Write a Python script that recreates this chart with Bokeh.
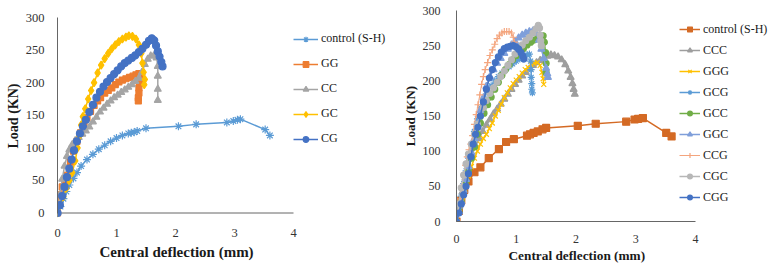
from bokeh.plotting import figure
from bokeh.layouts import row
from bokeh.models import Range1d, FixedTicker, Legend, LegendItem, Title
from bokeh.embed import file_html
from bokeh.resources import INLINE

# ---------------- data: two-layer specimens (left panel) ----------------
ctrl_l_x = [0, 0.05, 0.1, 0.15, 0.2, 0.27, 0.33, 0.4, 0.5, 0.6, 0.7, 0.8, 0.9, 1.0, 1.1, 1.2,
            1.25, 1.3, 1.35, 1.5, 2.05, 2.35, 2.87, 2.98, 3.05, 3.1, 3.52, 3.6]
ctrl_l_y = [0, 10, 22, 33, 43, 53, 62, 72, 82, 90, 98, 104, 110, 115, 119, 122,
            123, 124, 126, 130, 133, 136, 139, 141, 143, 144, 128, 119]

gg_x = [0, 0.03, 0.08, 0.13, 0.17, 0.22, 0.27, 0.33, 0.39, 0.45, 0.5, 0.56, 0.62, 0.68, 0.73,
        0.8, 0.86, 0.92, 0.98, 1.04, 1.1, 1.16, 1.22, 1.28, 1.33, 1.38, 1.4, 1.39, 1.38, 1.38,
        1.37, 1.37]
gg_y = [0, 28, 40, 50, 58, 78, 95, 110, 123, 135, 146, 156, 165, 172, 177,
        184, 188, 192, 197, 201, 204, 206, 208, 210, 212, 214, 207, 199, 192, 184,
        177, 172]

cc_x = [0, 0.04, 0.08, 0.12, 0.16, 0.2, 0.25, 0.3, 0.36, 0.42, 0.48, 0.54, 0.6, 0.66, 0.72,
        0.78, 0.84, 0.9, 0.96, 1.02, 1.08, 1.14, 1.2, 1.26, 1.32, 1.38, 1.43, 1.48, 1.53,
        1.58, 1.63, 1.68, 1.7, 1.7, 1.7, 1.7]
cc_y = [0, 28, 52, 72, 87, 97, 105, 111, 116, 121, 126, 132, 140, 147, 155,
        161, 167, 172, 177, 181, 185, 189, 193, 197, 202, 207, 216, 228, 236,
        241, 241, 238, 225, 210, 190, 173]

gc_x = [0, 0.05, 0.1, 0.15, 0.2, 0.25, 0.3, 0.34, 0.37, 0.4, 0.43, 0.47, 0.52, 0.57, 0.62,
        0.68, 0.74, 0.8, 0.86, 0.92, 0.98, 1.04, 1.1, 1.16, 1.21, 1.27, 1.33, 1.38, 1.42,
        1.44, 1.46, 1.48, 1.47]
gc_y = [0, 12, 25, 38, 50, 62, 80, 100, 118, 135, 148, 160, 175, 188, 200,
        215, 227, 237, 245, 252, 258, 263, 267, 270, 272, 271, 267, 258, 245,
        230, 216, 205, 197]

cg_x = [0, 0.04, 0.08, 0.12, 0.16, 0.2, 0.24, 0.28, 0.33, 0.38, 0.43, 0.48, 0.54, 0.6, 0.66,
        0.72, 0.78, 0.84, 0.9, 0.96, 1.02, 1.08, 1.14, 1.2, 1.26, 1.32, 1.38, 1.44, 1.5,
        1.55, 1.6, 1.64, 1.67, 1.7, 1.73, 1.76, 1.78]
cg_y = [0, 12, 26, 40, 55, 68, 82, 96, 110, 122, 133, 143, 155, 166, 177,
        186, 194, 201, 207, 213, 219, 225, 230, 234, 238, 242, 247, 252, 258,
        264, 268, 265, 257, 248, 240, 232, 225]

# ---------------- data: three-layer specimens (right panel) ----------------
ctrl_r_x = [0, 0.04, 0.08, 0.13, 0.2, 0.3, 0.4, 0.54, 0.71, 0.83, 0.96, 1.18, 1.23, 1.29,
            1.36, 1.44, 1.5, 2.03, 2.33, 2.84, 2.98, 3.04, 3.12, 3.51, 3.6]
ctrl_r_y = [0, 15, 30, 45, 57, 70, 77, 90, 103, 113, 117, 122, 124, 126,
            128, 131, 133, 136, 139, 142, 145, 146, 147, 126, 121]

ccc_x = [0, 0.05, 0.1, 0.15, 0.2, 0.26, 0.32, 0.38, 0.44, 0.5, 0.56, 0.62, 0.68, 0.74, 0.8,
         0.86, 0.92, 0.98, 1.04, 1.1, 1.16, 1.22, 1.28, 1.34, 1.4, 1.46, 1.52, 1.58, 1.64,
         1.7, 1.76, 1.82, 1.87, 1.91, 1.94, 1.96, 1.98]
ccc_y = [0, 22, 42, 62, 80, 95, 107, 118, 128, 137, 145, 153, 160, 167, 174,
         181, 188, 195, 201, 207, 212, 217, 222, 226, 229, 232, 235, 237, 236,
         234, 230, 223, 214, 205, 196, 188, 181]

ggg_x = [0, 0.05, 0.1, 0.15, 0.2, 0.25, 0.3, 0.35, 0.4, 0.45, 0.5, 0.55, 0.6, 0.65, 0.7,
         0.75, 0.8, 0.85, 0.9, 0.95, 1.0, 1.05, 1.1, 1.15, 1.2, 1.25, 1.3, 1.35, 1.4, 1.43,
         1.45, 1.46]
ggg_y = [0, 18, 35, 50, 65, 78, 90, 100, 110, 118, 124, 132, 140, 150, 158,
         167, 176, 183, 190, 196, 201, 206, 211, 216, 219, 223, 225, 226, 222, 212,
         203, 195]

gcg_x = [0, 0.04, 0.08, 0.12, 0.16, 0.2, 0.25, 0.3, 0.35, 0.4, 0.46, 0.52, 0.58, 0.64, 0.7,
         0.76, 0.82, 0.88, 0.94, 1.0, 1.06, 1.12, 1.18, 1.22, 1.24, 1.25, 1.25, 1.26, 1.26,
         1.27]
gcg_y = [0, 18, 36, 54, 72, 90, 110, 128, 146, 162, 175, 185, 193, 200, 206,
         211, 216, 220, 224, 228, 231, 234, 237, 238, 228, 216, 205, 196, 188,
         183]

gcc_x = [0, 0.04, 0.08, 0.12, 0.16, 0.2, 0.25, 0.3, 0.35, 0.4, 0.46, 0.52, 0.58, 0.64, 0.7,
         0.76, 0.82, 0.88, 0.94, 1.0, 1.06, 1.12, 1.18, 1.24, 1.3, 1.36, 1.41, 1.45, 1.47,
         1.49, 1.5, 1.5]
gcc_y = [0, 14, 28, 43, 58, 73, 90, 106, 124, 140, 154, 166, 177, 188, 198,
         208, 216, 223, 230, 236, 241, 246, 251, 255, 258, 261, 263, 264, 255,
         240, 225, 212]

ggc_x = [0, 0.04, 0.08, 0.12, 0.16, 0.2, 0.25, 0.3, 0.35, 0.4, 0.45, 0.5, 0.56, 0.62, 0.68,
         0.74, 0.8, 0.86, 0.92, 0.98, 1.04, 1.1, 1.16, 1.22, 1.28, 1.33, 1.38, 1.42, 1.46,
         1.5, 1.52, 1.53]
ggc_y = [0, 14, 28, 44, 60, 78, 98, 118, 138, 158, 176, 192, 206, 216, 225,
         232, 239, 245, 251, 256, 261, 265, 268, 270, 271, 268, 258, 245, 232,
         218, 210, 205]

ccg_x = [0, 0.03, 0.06, 0.09, 0.12, 0.15, 0.18, 0.21, 0.24, 0.27, 0.3, 0.33, 0.36, 0.39,
         0.42, 0.45, 0.48, 0.52, 0.56, 0.6, 0.64, 0.68, 0.72, 0.76, 0.8, 0.84, 0.88, 0.92,
         0.95, 0.97]
ccg_y = [0, 15, 32, 50, 66, 80, 92, 102, 110, 122, 138, 152, 166, 180,
         195, 206, 216, 226, 236, 244, 252, 260, 265, 268, 270, 270, 270, 268,
         262, 255]

cgc_x = [0, 0.04, 0.08, 0.12, 0.16, 0.2, 0.25, 0.3, 0.35, 0.4, 0.45, 0.5, 0.56, 0.62, 0.68,
         0.74, 0.8, 0.86, 0.92, 0.98, 1.04, 1.1, 1.16, 1.22, 1.28, 1.33, 1.37, 1.39, 1.4,
         1.41, 1.42]
cgc_y = [0, 25, 48, 66, 82, 96, 110, 124, 138, 150, 162, 172, 182, 190, 198,
         206, 214, 222, 230, 238, 245, 251, 257, 262, 268, 274, 279, 275, 265,
         257, 250]

cgg_x = [0, 0.04, 0.08, 0.12, 0.16, 0.2, 0.24, 0.28, 0.32, 0.36, 0.4, 0.45, 0.5, 0.55, 0.6,
         0.65, 0.7, 0.75, 0.8, 0.85, 0.9, 0.95, 1.0, 1.04, 1.08, 1.11, 1.13]
cgg_y = [0, 12, 25, 38, 50, 68, 92, 110, 124, 134, 150, 170, 188, 204, 216,
         226, 234, 241, 246, 248, 249, 250, 248, 245, 240, 235, 231]

x_ticks = [0, 1, 2, 3, 4]
y_ticks = [0, 50, 100, 150, 200, 250, 300]

SERIF = "Liberation Serif"
AXIS_COLOR = "#666666"

# shared frame geometry of the two panels (pixels)
FRAME_TOP, FRAME_BOTTOM, HEIGHT = 10, 221, 264


def make_panel(width, border_left, px_per_unit, y_bottom_px, y_top_px,
               tick_size, ytitle_size, label_standoff):
    frame_w = width - border_left
    frame_h = FRAME_BOTTOM - FRAME_TOP
    k = (y_bottom_px - y_top_px) / 300.0          # pixels per kN
    y0 = -(FRAME_BOTTOM - y_bottom_px) / k
    y1 = y0 + frame_h / k
    p = figure(width=width, height=HEIGHT, output_backend="svg", toolbar_location=None,
               x_range=Range1d(0, frame_w / px_per_unit), y_range=Range1d(y0, y1),
               min_border_left=border_left, min_border_right=0,
               min_border_top=FRAME_TOP, min_border_bottom=HEIGHT - FRAME_BOTTOM)
    p.outline_line_color = None
    p.xgrid.grid_line_color = None
    p.ygrid.grid_line_color = None
    p.background_fill_alpha = 0
    p.border_fill_alpha = 0

    xa = p.xaxis[0]
    xa.bounds = (0, 4)
    xa.ticker = FixedTicker(ticks=x_ticks)
    ya = p.yaxis[0]
    ya.bounds = (0, 300)
    ya.ticker = FixedTicker(ticks=y_ticks)
    for ax in (xa, ya):
        ax.axis_line_color = AXIS_COLOR
        ax.axis_line_width = 1
        ax.major_tick_line_color = None
        ax.minor_tick_line_color = None
        ax.major_label_text_font = SERIF
        ax.major_label_text_font_size = f"{tick_size}px"
        ax.major_label_text_color = "#333333"
        ax.axis_label_text_font = SERIF
        ax.axis_label_text_font_style = "bold"
        ax.axis_label_text_color = "#1a1a1a"
    ya.axis_label_text_font_size = f"{ytitle_size}px"
    ya.axis_label = "Load (KN)"
    ya.major_label_standoff = label_standoff
    ya.axis_label_standoff = 2
    return p


def add_x_title(p, offset, size, standoff):
    # x-axis title under the 0-4 span of the axis (the frame runs on into the legend area)
    t = Title(text="Central deflection (mm)", align="left", offset=offset,
              text_font=SERIF, text_font_style="bold", text_font_size=f"{size}px",
              text_color="#1a1a1a", standoff=standoff)
    p.add_layout(t, "below")


def add_series(p, xs, ys, color, marker, size, lw=1.5):
    ln = p.line(xs, ys, line_color=color, line_width=lw)
    mk = p.scatter(xs, ys, marker=marker, size=size, fill_color=color,
                   line_color=color, line_width=1.2)
    return [ln, mk]


def make_legend(items, loc, row_h, glyph_w, glyph_h, font_size):
    lg = Legend(items=items, location=loc, orientation="vertical")
    lg.border_line_color = None
    lg.background_fill_alpha = 0
    lg.padding = 0
    lg.margin = 0
    lg.spacing = 0
    lg.label_height = row_h
    lg.glyph_height = glyph_h
    lg.glyph_width = glyph_w
    lg.label_standoff = 3
    lg.label_text_font = SERIF
    lg.label_text_font_size = f"{font_size}px"
    lg.label_text_color = "#1a1a1a"
    return lg


# ---------------- left panel ----------------
left = make_panel(width=395, border_left=57, px_per_unit=59.0,
                  y_bottom_px=212.5, y_top_px=17, tick_size=12.5, ytitle_size=14,
                  label_standoff=7)
# this panel's zero-load line sits above the frame bottom: draw the axis rule there
left.xaxis[0].axis_line_color = None
left.xaxis[0].major_label_standoff = 1
left.line(x=[x_ticks[0], x_ticks[-1]], y=[y_ticks[0], y_ticks[0]],
          line_color=AXIS_COLOR, line_width=1)
add_x_title(left, offset=42, size=15, standoff=4)

l_series = [
    ("control (S-H)", ctrl_l_x, ctrl_l_y, "#5B9BD5", "asterisk", 8),
    ("GG", gg_x, gg_y, "#ED7D31", "square", 6),
    ("CC", cc_x, cc_y, "#A5A5A5", "triangle", 7),
    ("GC", gc_x, gc_y, "#FFC000", "diamond", 8),
    ("CG", cg_x, cg_y, "#4472C4", "circle", 7),
]
l_items = []
for name, xs, ys, col, mk, sz in l_series:
    l_items.append(LegendItem(label=name, renderers=add_series(left, xs, ys, col, mk, sz)))
left.add_layout(make_legend(l_items, (236, 70), 25, 25, 14, 12))

# ---------------- right panel ----------------
right = make_panel(width=381, border_left=61, px_per_unit=59.75,
                   y_bottom_px=221, y_top_px=10, tick_size=12, ytitle_size=13,
                   label_standoff=10)
right.xaxis[0].major_label_standoff = 7
add_x_title(right, offset=52, size=13.3, standoff=0)

r_series = [
    ("control (S-H)", ctrl_r_x, ctrl_r_y, "#D46A24", "square", 7),
    ("CCC", ccc_x, ccc_y, "#9E9E9E", "triangle", 7),
    ("GGG", ggg_x, ggg_y, "#FFC000", "x", 7),
    ("GCG", gcg_x, gcg_y, "#5B9BD5", "asterisk", 7),
    ("GCC", gcc_x, gcc_y, "#70AD47", "circle", 6),
    ("GGC", ggc_x, ggc_y, "#7F9FDA", "triangle", 7),
    ("CCG", ccg_x, ccg_y, "#F4A57E", "cross", 7),
    ("CGC", cgc_x, cgc_y, "#B7B7B7", "circle", 6),
    ("CGG", cgg_x, cgg_y, "#4472C4", "circle", 6),
]
r_items = []
for name, xs, ys, col, mk, sz in r_series:
    lw = 1.0 if name == "CCG" else 1.5
    r_items.append(LegendItem(label=name, renderers=add_series(right, xs, ys, col, mk, sz, lw)))
right.add_layout(make_legend(r_items, (223, 13.5), 21, 21, 12, 12))

layout = row(left, right)
open("out.html", "w").write(file_html(layout, INLINE))
